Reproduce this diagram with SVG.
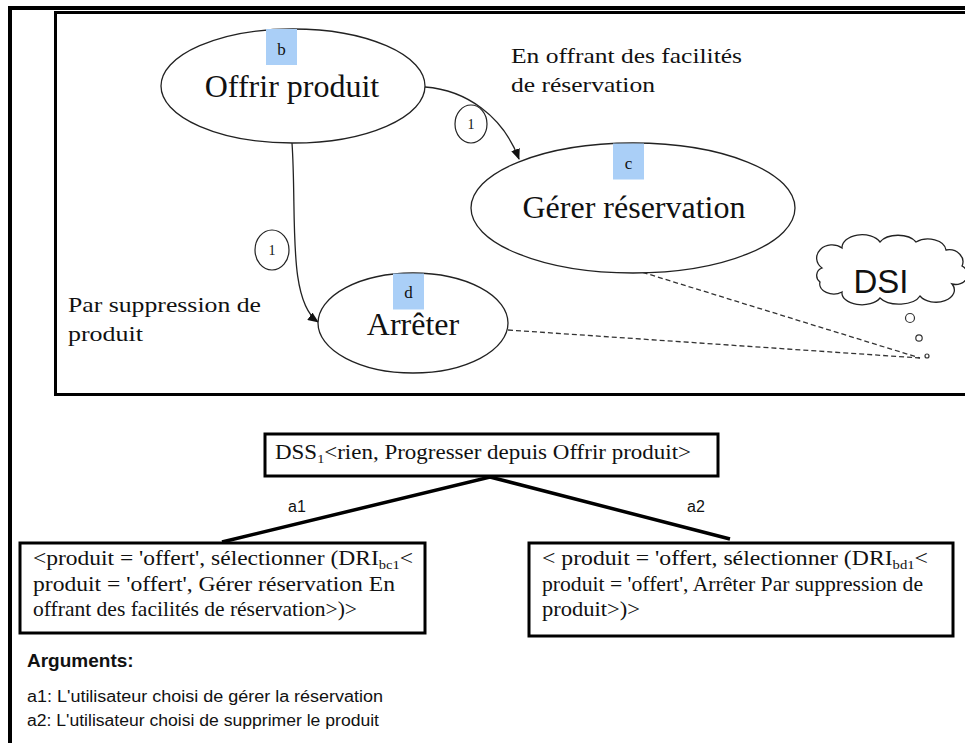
<svg xmlns="http://www.w3.org/2000/svg" width="965" height="743" viewBox="0 0 965 743">
<style>
.serif{font-family:"Liberation Serif","Times New Roman",serif;fill:#111}
.sans{font-family:"Liberation Sans",Arial,sans-serif;fill:#111}
.ell{fill:#fff;stroke:#222;stroke-width:1.3}
.tag{fill:#aacff7}
.conn{fill:none;stroke:#222;stroke-width:1.3}
.dash{fill:none;stroke:#333;stroke-width:1.3;stroke-dasharray:5,3}
.box{fill:#fff;stroke:#000;stroke-width:3}
.tree{stroke:#000;stroke-width:3.5;fill:none}
</style>
<defs>
<marker id="ah" markerUnits="userSpaceOnUse" markerWidth="11" markerHeight="9" refX="10" refY="4.5" orient="auto">
<path d="M0,0 L11,4.5 L0,9 z" fill="#111"/>
</marker>
</defs>
<rect width="965" height="743" fill="#fff"/>
<g id="frames">
<path d="M10,743 V8 H965" fill="none" stroke="#000" stroke-width="4"/>
<path d="M965,12.5 H55.5 V394.5 H965" fill="none" stroke="#000" stroke-width="3"/>
</g>
<g id="connectors">
<path class="conn" d="M425,87 C466,90 503,116 519,159" marker-end="url(#ah)"/>
<path class="conn" d="M292,143 C297,215 287,300 318,322" marker-end="url(#ah)"/>
<path class="dash" d="M635,270 L920,358"/>
<path class="dash" d="M508,330 L920,358"/>
<path class="tree" d="M222,542 L490,477 L730,539"/>
</g>
<g id="node-b">
<ellipse class="ell" cx="293" cy="86" rx="132" ry="57"/>
<rect class="tag" x="266" y="29" width="31" height="36"/>
<text class="serif" x="281.5" y="55" font-size="17" text-anchor="middle">b</text>
<text class="serif" x="292" y="97" font-size="32" text-anchor="middle">Offrir produit</text>
</g>
<g id="node-c">
<ellipse class="ell" cx="633" cy="208" rx="162" ry="65"/>
<rect class="tag" x="613" y="143.5" width="31" height="36"/>
<text class="serif" x="628.5" y="169" font-size="17" text-anchor="middle">c</text>
<text class="serif" x="634" y="218" font-size="32" text-anchor="middle">Gérer réservation</text>
</g>
<g id="node-d">
<ellipse class="ell" cx="413" cy="323" rx="95" ry="50"/>
<rect class="tag" x="393" y="273.5" width="31" height="36"/>
<text class="serif" x="408.5" y="298" font-size="17" text-anchor="middle">d</text>
<text class="serif" x="413" y="335" font-size="32" text-anchor="middle">Arrêter</text>
</g>
<g id="label-1a">
<ellipse cx="471" cy="124" rx="16" ry="19" fill="#fff" stroke="#222" stroke-width="1.2"/>
<text class="serif" x="471" y="129" font-size="14" text-anchor="middle">1</text>
</g>
<g id="label-1b">
<ellipse cx="272" cy="250" rx="17" ry="20" fill="#fff" stroke="#222" stroke-width="1.2"/>
<text class="serif" x="272" y="255" font-size="14" text-anchor="middle">1</text>
</g>
<g id="text-c">
<text class="serif" x="511" y="63" font-size="21" textLength="231" lengthAdjust="spacingAndGlyphs">En offrant des facilités</text>
<text class="serif" x="511" y="92" font-size="21" textLength="144" lengthAdjust="spacingAndGlyphs">de réservation</text>
</g>
<g id="text-d">
<text class="serif" x="68" y="312" font-size="21" textLength="193" lengthAdjust="spacingAndGlyphs">Par suppression de</text>
<text class="serif" x="68" y="341" font-size="21" textLength="75" lengthAdjust="spacingAndGlyphs">produit</text>
</g>
<g id="dsi">
<path d="M822,268 a14,12 0 0 1 20,-20 a20,13 0 0 1 38,-6 a20,12 0 0 1 36,0 a18,12 0 0 1 30,8 a14,12 0 0 1 16,16 a12,10 0 0 1 -10,18 a18,12 0 0 1 -32,12 a22,12 0 0 1 -40,2 a20,12 0 0 1 -38,-6 a14,10 0 0 1 -22,-10 a8,8 0 0 1 2,-14 z" fill="#fff" stroke="#222" stroke-width="1.3"/>
<text class="sans" x="881" y="293" font-size="33" text-anchor="middle">DSI</text>
<circle cx="910" cy="318" r="4.5" fill="#fff" stroke="#333" stroke-width="1.2"/>
<circle cx="919" cy="338" r="3.2" fill="#fff" stroke="#333" stroke-width="1.2"/>
<circle cx="927" cy="356" r="2" fill="#fff" stroke="#333" stroke-width="1.2"/>
</g>
<g id="node-dss">
<rect class="box" x="265" y="434" width="453" height="42"/>
<text class="serif" x="275" y="459" font-size="21" textLength="416" lengthAdjust="spacingAndGlyphs">DSS<tspan font-size="13" dy="4">1</tspan><tspan dy="-4">&lt;rien, Progresser depuis Offrir produit&gt;</tspan></text>
</g>
<g id="labels-a">
<text class="sans" x="288" y="512" font-size="16" fill="#222">a1</text>
<text class="sans" x="687" y="512" font-size="16" fill="#222">a2</text>
</g>
<g id="node-left">
<rect class="box" x="20" y="543" width="405" height="90"/>
<text class="serif" x="33" y="565" font-size="21" textLength="380" lengthAdjust="spacingAndGlyphs">&lt;produit = 'offert', sélectionner (DRI<tspan font-size="13" dy="4">bc1</tspan><tspan dy="-4">&lt;</tspan></text>
<text class="serif" x="33" y="591" font-size="21" textLength="362" lengthAdjust="spacingAndGlyphs">produit = 'offert', Gérer réservation En</text>
<text class="serif" x="33" y="616" font-size="21" textLength="324" lengthAdjust="spacingAndGlyphs">offrant des facilités de réservation&gt;)&gt;</text>
</g>
<g id="node-right">
<rect class="box" x="529" y="543" width="424" height="93"/>
<text class="serif" x="542" y="565" font-size="21" textLength="386" lengthAdjust="spacingAndGlyphs">&lt; produit = 'offert, sélectionner (DRI<tspan font-size="13" dy="4">bd1</tspan><tspan dy="-4">&lt;</tspan></text>
<text class="serif" x="542" y="591" font-size="21" textLength="381" lengthAdjust="spacingAndGlyphs">produit = 'offert', Arrêter Par suppression de</text>
<text class="serif" x="542" y="616" font-size="21" textLength="98" lengthAdjust="spacingAndGlyphs">produit&gt;)&gt;</text>
</g>
<g id="arguments">
<text class="sans" x="27" y="667" font-size="19" font-weight="bold">Arguments:</text>
<text class="sans" x="27" y="702" font-size="16" fill="#222" textLength="356" lengthAdjust="spacingAndGlyphs">a1: L'utilisateur choisi de gérer la réservation</text>
<text class="sans" x="27" y="726" font-size="16" fill="#222" textLength="352" lengthAdjust="spacingAndGlyphs">a2: L'utilisateur choisi de supprimer le produit</text>
</g>
</svg>
